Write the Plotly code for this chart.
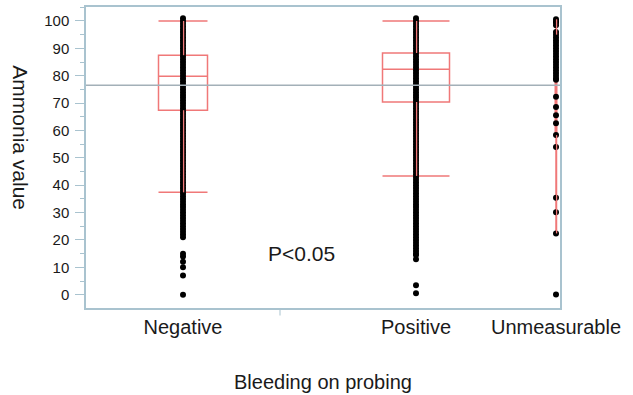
import plotly.graph_objects as go

# ---------------- data ----------------
categories = ["Negative", "Positive", "Unmeasurable"]

negative_values = [101, 100, 99, 98, 97, 96, 95, 94, 93, 92, 91, 90, 89, 88, 87, 86, 85, 84, 83, 82,
                   81, 80, 79, 78, 77, 76, 75, 74, 73, 72, 71, 70, 69, 68, 67, 66, 65, 64, 63, 62,
                   61, 60, 59, 58, 57, 56, 55, 54, 53, 52, 51, 50, 49, 48, 47, 46, 45, 44, 43, 42,
                   41, 40, 39, 38, 37, 36, 35, 34, 33, 32, 31, 30, 29, 28, 27, 26, 25, 24, 23, 22,
                   21, 15, 14, 12, 10, 7, 0]
positive_values = [101, 100, 99, 98, 97, 96, 95, 94, 93, 92, 91, 90, 89, 88, 87, 86, 85, 84, 83, 82,
                   81, 80, 79, 78, 77, 76, 75, 74, 73, 72, 71, 70, 69, 68, 67, 66, 65, 64, 63, 62,
                   61, 60, 59, 58, 57, 56, 55, 54, 53, 52, 51, 50, 49, 48, 47, 46, 45, 44, 43, 42,
                   41, 40, 39, 38, 37, 36, 35, 34, 33, 32, 31, 30, 29, 28, 27, 26, 25, 24, 23, 22,
                   21, 20, 19, 18, 17, 16, 15, 14.5, 13, 3.5, 0.5]
unmeasurable_values = [100.6, 99.8, 99.4, 98.4, 96, 95, 94, 93, 92, 91, 90, 89, 88, 87, 86, 85, 84,
                       83, 82, 81, 80, 79, 78.5,
                       72.3, 68.6, 65.6, 62.6, 58.3, 54.0, 35.4, 30.1, 22.4, 0.1]

# box statistics: [Negative, Positive, Unmeasurable]
box_lowerfence = [37.4, 43.4, 22.4]
box_q1 = [67.4, 70.4, 58.3]
box_median = [79.8, 82.4, 80.0]
box_q3 = [87.5, 88.3, 95.0]
box_upperfence = [100, 100, 100.6]

grand_mean = 76.5
p_text = "P<0.05"

y_tickvals = [0, 10, 20, 30, 40, 50, 60, 70, 80, 90, 100]

# ---------------- layout helpers ----------------
group_share = [194, 272, 8]          # relative horizontal space of each group (JMP style)
bounds = [0]
for w in group_share:
    bounds.append(bounds[-1] + w)
centers = [(bounds[i] + bounds[i + 1]) / 2 for i in range(3)]
box_widths = [49, 67, 1.5]

FONT = "Liberation Sans, Arial, sans-serif"
TEXT = "#1a1a1a"
RED = "#f07878"
FRAME = "#a9c3cf"

fig = go.Figure()

for i in range(3):
    fig.add_trace(go.Box(
        x=[centers[i]], q1=[box_q1[i]], median=[box_median[i]], q3=[box_q3[i]],
        lowerfence=[box_lowerfence[i]], upperfence=[box_upperfence[i]],
        width=box_widths[i], whiskerwidth=1,
        line=dict(color=RED, width=1.5), fillcolor="rgba(0,0,0,0)",
        boxpoints=False, showlegend=False, name=categories[i]))

series = [negative_values, positive_values, unmeasurable_values]
for i, vals in enumerate(series):
    fig.add_trace(go.Scatter(
        x=[centers[i]] * len(vals), y=vals, mode="markers",
        marker=dict(color="black", size=6, line=dict(width=0)),
        showlegend=False, hoverinfo="y"))

# whiskers redrawn over the points (as in the JMP output)
for i in range(3):
    c = centers[i] + 0.6
    fig.add_trace(go.Scatter(
        x=[c, c, None, c, c],
        y=[box_upperfence[i], box_q3[i], None, box_q1[i], box_lowerfence[i]],
        mode="lines", line=dict(color=RED, width=1.3),
        showlegend=False, hoverinfo="skip"))

# grand mean line
fig.add_shape(type="line", xref="paper", x0=0, x1=1, yref="y", y0=grand_mean, y1=grand_mean,
              line=dict(color="#a3b0b8", width=1.5))
# group boundary ticks
fig.add_shape(type="line", xref="x", x0=bounds[1], x1=bounds[1], yref="paper", y0=0, y1=-0.025,
              line=dict(color=FRAME, width=1))

fig.add_annotation(x=215.7, y=14.9, xref="x", yref="y", text=p_text, showarrow=False,
                   xanchor="center", yanchor="middle",
                   font=dict(family=FONT, size=21, color=TEXT))
fig.add_annotation(x=-0.14, y=0.565, xref="paper", yref="paper", text="Ammonia value",
                   textangle=90, showarrow=False, xanchor="center", yanchor="middle",
                   font=dict(family=FONT, size=21, color=TEXT))
fig.add_annotation(x=0.5, y=-0.246, xref="paper", yref="paper", xanchor="center", yanchor="middle",
                   text="Bleeding on probing", showarrow=False,
                   font=dict(family=FONT, size=20, color=TEXT))

fig.update_layout(
    width=633, height=395,
    margin=dict(l=86, r=73, t=7, b=87),
    paper_bgcolor="white", plot_bgcolor="white",
    font=dict(family=FONT, color=TEXT),
    xaxis=dict(range=[bounds[0], bounds[3]], tickvals=centers, ticktext=categories,
               ticks="", showgrid=False, zeroline=False, automargin=False,
               showline=True, linecolor=FRAME, linewidth=1.5, mirror=True,
               tickfont=dict(family=FONT, size=20, color=TEXT)),
    yaxis=dict(range=[-4.85, 105.1], tickvals=y_tickvals, ticks="outside", ticklen=9,
               tickcolor=FRAME, tickwidth=1, showgrid=False, zeroline=False, automargin=False,
               showline=True, linecolor=FRAME, linewidth=1.5, mirror=True,
               ticklabelstandoff=3,
               minor=dict(dtick=5, tick0=0, ticks="outside", ticklen=4, tickcolor=FRAME, showgrid=False),
               tickfont=dict(family=FONT, size=15, color=TEXT)),
)

fig.write_html("out.html", config={"displayModeBar": False},
               post_script="document.body.style.margin='0';document.body.style.overflow='hidden';")
